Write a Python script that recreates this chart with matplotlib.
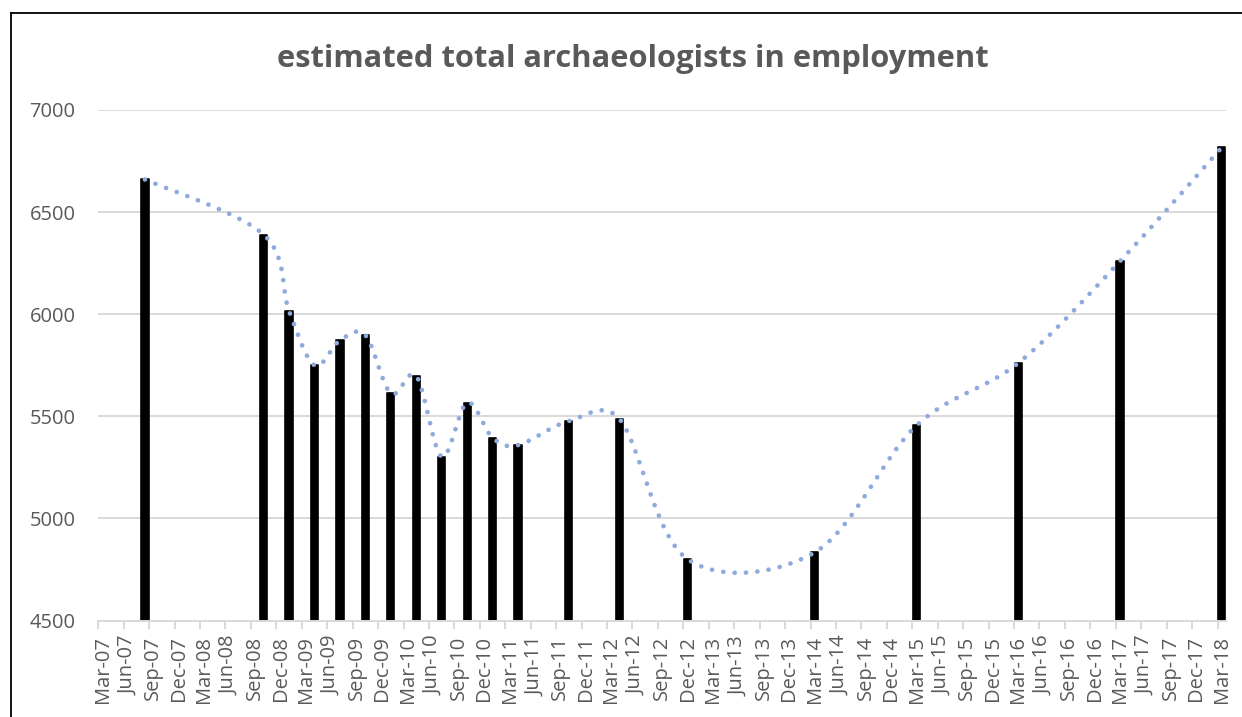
import numpy as np
import matplotlib
matplotlib.use("Agg")
import matplotlib.pyplot as plt
from matplotlib.lines import Line2D

# ---------------- data ----------------
survey_dates = ["2007-08", "2008-10", "2009-01", "2009-04", "2009-07", "2009-10",
                "2010-01", "2010-04", "2010-07", "2010-10", "2011-01", "2011-04",
                "2011-10", "2012-04", "2012-12", "2014-03", "2015-03", "2016-03",
                "2017-03", "2018-03"]
archaeologists = [6660, 6390, 6015, 5750, 5872, 5897,
                  5612, 5697, 5302, 5567, 5395, 5359,
                  5477, 5485, 4800, 4834, 5455, 5761,
                  6259, 6817]
tick_labels = ["Mar-07", "Jun-07", "Sep-07", "Dec-07", "Mar-08", "Jun-08", "Sep-08", "Dec-08",
               "Mar-09", "Jun-09", "Sep-09", "Dec-09", "Mar-10", "Jun-10", "Sep-10", "Dec-10",
               "Mar-11", "Jun-11", "Sep-11", "Dec-11", "Mar-12", "Jun-12", "Sep-12", "Dec-12",
               "Mar-13", "Jun-13", "Sep-13", "Dec-13", "Mar-14", "Jun-14", "Sep-14", "Dec-14",
               "Mar-15", "Jun-15", "Sep-15", "Dec-15", "Mar-16", "Jun-16", "Sep-16", "Dec-16",
               "Mar-17", "Jun-17", "Sep-17", "Dec-17", "Mar-18"]
y_ticks = [4500, 5000, 5500, 6000, 6500, 7000]
title = "estimated total archaeologists in employment"

MON = {"Jan": 1, "Feb": 2, "Mar": 3, "Apr": 4, "May": 5, "Jun": 6, "Jul": 7,
       "Aug": 8, "Sep": 9, "Oct": 10, "Nov": 11, "Dec": 12}


def month_index(year, month):
    # months since March 2007 (date axis with a monthly base unit)
    return (year - 2007) * 12 + (month - 3)


x_data = np.array([month_index(int(d[:4]), int(d[5:])) for d in survey_dates], float) + 0.5
y_data = np.array(archaeologists, float)
tick_pos = np.array([month_index(2000 + int(t[4:]), MON[t[:3]]) for t in tick_labels], float)


def smooth_display(P, n=40):
    # spreadsheet-style smoothed line (Bezier, tension 1/6, clamped to half segment) in display space
    out = [P[0]]
    for i in range(len(P) - 1):
        p0 = P[i - 1] if i > 0 else P[i]
        p1 = P[i]
        p2 = P[i + 1]
        p3 = P[i + 2] if i + 2 < len(P) else P[i + 1]
        d02 = np.hypot(*(p2 - p0))
        d12 = np.hypot(*(p2 - p1))
        d13 = np.hypot(*(p3 - p1))
        f1 = 1 / 6.0
        f2 = 1 / 6.0
        if d02 > 0 and d02 / 6.0 >= d12 / 2.0:
            f1 = d12 / 2.0 / d02
        if d13 > 0 and d13 / 6.0 >= d12 / 2.0:
            f2 = d12 / 2.0 / d13
        c1 = p1 + (p2 - p0) * f1
        c2 = p2 - (p3 - p1) * f2
        t = np.linspace(0, 1, n)[1:, None]
        seg = ((1 - t) ** 3) * p1 + 3 * ((1 - t) ** 2) * t * c1 + 3 * (1 - t) * t ** 2 * c2 + t ** 3 * p2
        out.extend(seg)
    return np.array(out)


# ---------------- figure ----------------
W, H, DPI = 1242, 717, 100
fig = plt.figure(figsize=(W / DPI, H / DPI), dpi=DPI)
plt.rcParams["font.family"] = ["Open Sans", "DejaVu Sans"]

ax_l, ax_r, ax_t, ax_b = 98.3, 1226.0, 110.0, 620.5
ax = fig.add_axes([ax_l / W, 1 - ax_b / H, (ax_r - ax_l) / W, (ax_b - ax_t) / H])

grid_col = "#D9D9D9"
text_col = "#595959"

ax.set_xlim(0, 133)
ax.set_ylim(4500, 7000)

for v in y_ticks[1:]:
    ax.axhline(v, color=grid_col, lw=1.4, zorder=0)

ax.bar(x_data, y_data - 4500, bottom=4500, width=0.85, color="black",
       edgecolor="black", linewidth=1.2, joinstyle="round", zorder=2)

# smoothed dotted trend line through the bar tops
disp = ax.transData.transform(np.column_stack([x_data, y_data]))
curve = ax.transData.inverted().transform(smooth_display(disp))
ax.plot(curve[:, 0], curve[:, 1], color="#8FAADC", lw=3.4, linestyle=(0, (0.01, 2.4)),
        dash_capstyle="round", zorder=3, clip_on=False)

for s in ["top", "right", "left"]:
    ax.spines[s].set_visible(False)
ax.spines["bottom"].set_color(grid_col)
ax.spines["bottom"].set_linewidth(1.4)

ax.set_yticks(y_ticks)
ax.set_yticklabels([str(v) for v in y_ticks])
ax.tick_params(axis="y", length=0, pad=16.5, labelsize=14.5, labelcolor=text_col)

ax.set_xticks(tick_pos + 0.5)
ax.set_xticklabels(tick_labels, rotation=90)
ax.tick_params(axis="x", which="major", length=0, pad=11, labelsize=14.5, labelcolor=text_col)
ax.set_xticks(tick_pos, minor=True)
ax.tick_params(axis="x", which="minor", length=6, width=1.4, color=grid_col, direction="out")

# title fitted to the reference width
t = fig.text(633 / W, 1 - 67.3 / H, title, ha="center", va="baseline",
             fontsize=20, fontweight="bold", color=text_col)
fig.canvas.draw()
bb = t.get_window_extent()
t.set_fontsize(20 * 710.0 / bb.width)

# chart border (left and top edges visible)
fig.add_artist(Line2D([10.5 / W, 10.5 / W], [0, 1 - 12.5 / H], transform=fig.transFigure,
                      color="black", lw=1.3))
fig.add_artist(Line2D([10.5 / W, 1], [1 - 12.5 / H, 1 - 12.5 / H], transform=fig.transFigure,
                      color="black", lw=1.3))

fig.savefig("out.png", dpi=DPI)
